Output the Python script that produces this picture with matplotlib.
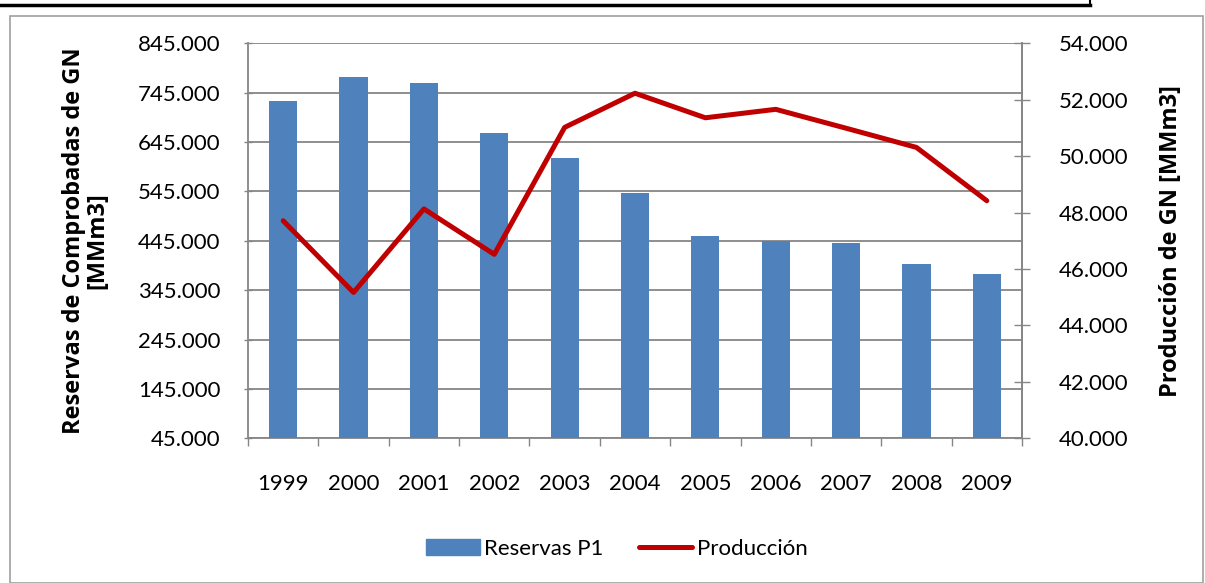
import matplotlib
matplotlib.use("Agg")
import matplotlib.pyplot as plt
from matplotlib.patches import Rectangle
from matplotlib.lines import Line2D

plt.rcParams['font.family'] = ['Lato', 'DejaVu Sans']

years = ['1999', '2000', '2001', '2002', '2003', '2004', '2005', '2006', '2007', '2008', '2009']
reservas = [729, 777, 764, 663, 612, 541, 455, 445, 441, 398, 378]  # thousands
produccion = [47.71, 45.17, 48.13, 46.52, 51.02, 52.23, 51.36, 51.66, 50.99, 50.31, 48.42]

left_ticks = [45, 145, 245, 345, 445, 545, 645, 745, 845]
right_ticks = [40, 42, 44, 46, 48, 50, 52, 54]

FS = 16
LFS = 17
fig = plt.figure(figsize=(12.05, 5.83), dpi=100)
ax = fig.add_axes([248/1205, 1-438.3/583, (1022-248)/1205, (438.3-43.3)/583])
ax2 = ax.twinx()

grey = '#868686'
x = list(range(len(years)))
ax.bar(x, reservas, width=0.4, color='#4F81BD', zorder=3, label='Reservas P1')
ax.set_ylim(45, 845)
ax.set_yticks(left_ticks)
ax.set_yticklabels([f"{v}.000" for v in left_ticks])
ax.set_xlim(-0.5, len(years) - 0.5)
ax.set_xticks(x)
ax.set_xticklabels(years)
ax.set_xticks([i - 0.5 for i in range(len(years) + 1)], minor=True)
ax.tick_params(axis='x', which='major', length=0, pad=26, labelsize=FS)
ax.tick_params(axis='x', which='minor', length=5.75, color=grey, direction='out', width=1.0)
ax.tick_params(axis='y', length=6, direction='inout', color=grey, width=1.0, labelsize=FS, pad=17)
ax.grid(axis='y', color=grey, linewidth=1.3, zorder=0)
ax.set_axisbelow(True)
ax.spines['top'].set_visible(False)
for s in ['left', 'right', 'bottom']:
    ax.spines[s].set_color(grey)
    ax.spines[s].set_linewidth(1.3)

ax2.plot(x, produccion, color='#C00000', linewidth=3.6, solid_capstyle='round', zorder=4, label='Producción')
ax2.set_ylim(40, 54)
ax2.set_yticks(right_ticks)
ax2.set_yticklabels([f"{v}.000" for v in right_ticks])
ax2.tick_params(axis='y', length=11.5, direction='inout', color=grey, width=1.0, labelsize=FS, pad=20.5)
for s in ['top', 'left', 'bottom']:
    ax2.spines[s].set_visible(False)
ax2.spines['right'].set_color(grey)
ax2.spines['right'].set_linewidth(1.3)

ax.set_ylabel('Reservas de Comprobadas de GN\n[MMm3]', fontsize=LFS, fontweight='bold',
              family=['Open Sans', 'DejaVu Sans'], labelpad=20, linespacing=1.0)
ax2.set_ylabel('Producción de GN [MMm3]', fontsize=LFS, fontweight='bold',
               family=['Open Sans', 'DejaVu Sans'], labelpad=22)

handles = [Rectangle((0, 0), 1, 1, color='#4F81BD'),
           Line2D([0], [0], color='#C00000', linewidth=3.6, solid_capstyle='round')]
fig.legend(handles, ['Reservas P1', 'Producción'], loc='center', bbox_to_anchor=(617/1205, 1-549/583),
           ncol=2, frameon=False, fontsize=FS, handlelength=2.4, handleheight=0.7,
           handletextpad=0.2, columnspacing=1.6)

# chart area border
fig.add_artist(Rectangle((10/1205, 0), (1203-10)/1205, 1-16/583, transform=fig.transFigure,
                         fill=False, edgecolor='#A0A0A0', linewidth=1.2))
# cut-off title underline from page
fig.add_artist(Line2D([0, 1090/1205], [1-5/583, 1-5/583], transform=fig.transFigure, color='black', linewidth=2.5))
fig.add_artist(Line2D([1090/1205, 1090/1205], [1-5/583, 1], transform=fig.transFigure, color='black', linewidth=1.5))

fig.savefig('out.png', dpi=100)
